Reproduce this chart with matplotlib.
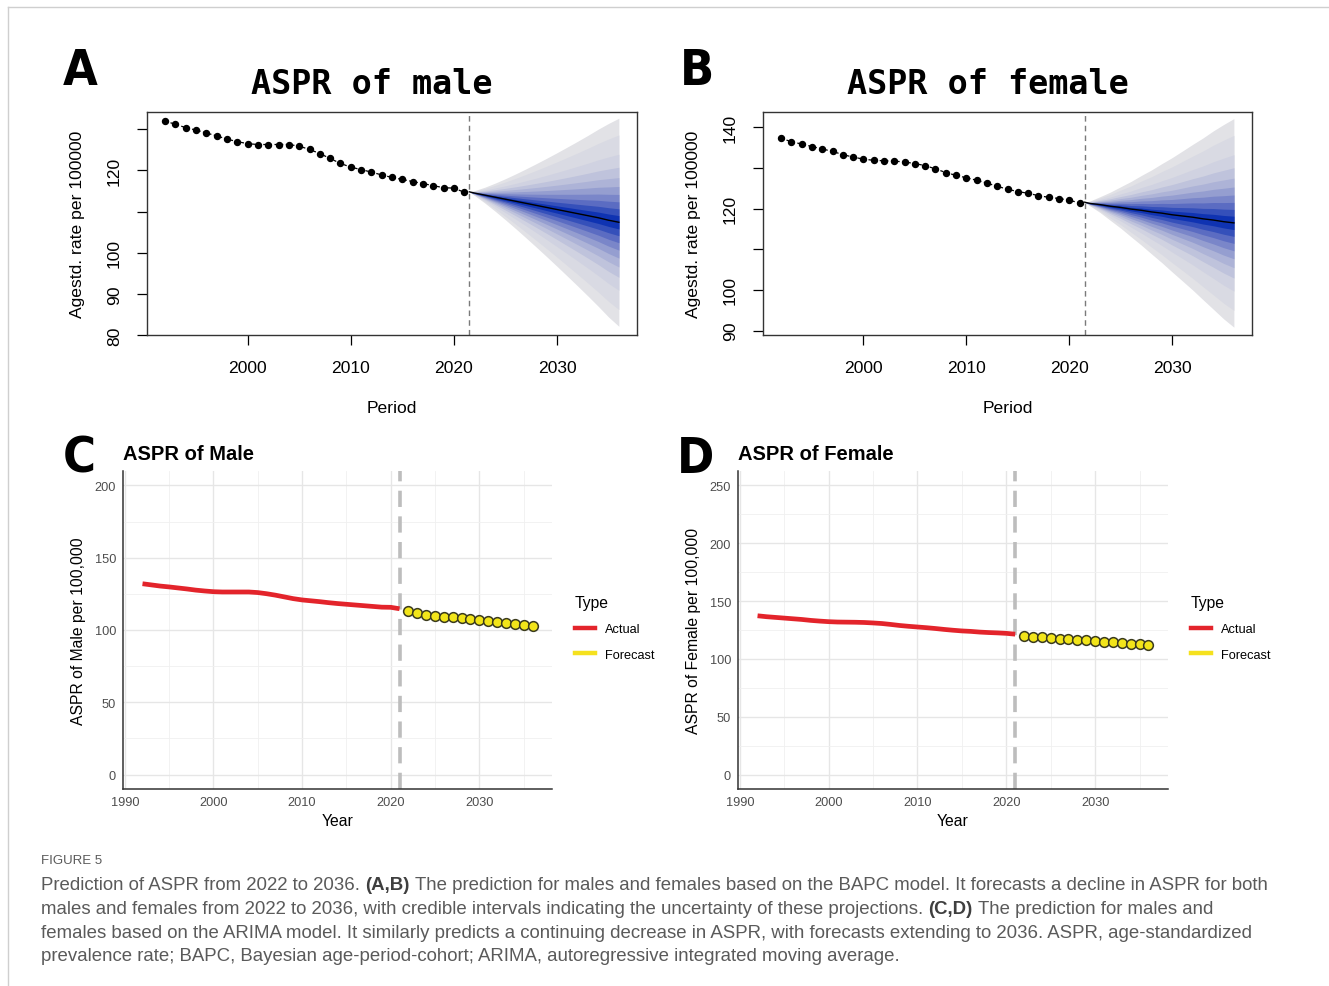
import numpy as np
import matplotlib
matplotlib.use("Agg")
import matplotlib.pyplot as plt
from matplotlib.lines import Line2D
from matplotlib.colors import LinearSegmentedColormap
from matplotlib.ticker import MultipleLocator, FixedLocator

plt.rcParams['font.family'] = ['Liberation Sans', 'DejaVu Sans']

# ---------------- data ----------------
years_obs = list(range(1992, 2022))
male_obs = [132.0, 131.2, 130.4, 129.8, 129.1, 128.4, 127.6, 127.0, 126.5, 126.3,
            126.3, 126.3, 126.3, 125.9, 125.1, 124.1, 122.9, 121.7, 120.8, 120.2,
            119.6, 118.9, 118.3, 117.8, 117.3, 116.8, 116.3, 115.8, 115.7, 114.7]
female_obs = [137.3, 136.5, 135.9, 135.3, 134.7, 134.1, 133.3, 132.7, 132.2, 131.9,
              131.8, 131.7, 131.5, 131.1, 130.6, 129.8, 128.9, 128.2, 127.6, 127.0,
              126.3, 125.5, 124.8, 124.2, 123.8, 123.2, 122.8, 122.5, 122.1, 121.4]

# BAPC projections: posterior median and standard deviation
bapc_years = [2021.5] + list(range(2022, 2037))
male_bapc_median = [114.8, 114.5, 114.0, 113.5, 113.0, 112.5, 112.0, 111.5,
                    111.0, 110.5, 110.0, 109.5, 109.0, 108.5, 107.9, 107.4]
male_bapc_sd = [0.0, 0.30, 0.98, 1.74, 2.55, 3.40, 4.28, 5.18,
                6.10, 7.04, 8.00, 8.97, 9.96, 10.98, 12.0, 12.9]
female_bapc_median = [121.6, 121.3, 121.0, 120.6, 120.3, 119.9, 119.6, 119.2,
                      118.9, 118.5, 118.2, 117.9, 117.5, 117.2, 116.8, 116.5]
female_bapc_sd = [0.0, 0.30, 1.00, 1.78, 2.60, 3.47, 4.37, 5.28,
                  6.22, 7.18, 8.16, 9.15, 10.16, 11.2, 12.2, 13.1]

# ARIMA forecasts
arima_years = list(range(2022, 2037))
male_arima = [112.9, 111.5, 110.4, 109.7, 109.2, 109.0, 108.3, 107.8,
              107.1, 106.5, 105.8, 105.1, 104.4, 103.5, 103.0]
female_arima = [120.2, 119.3, 118.7, 118.1, 117.6, 117.3, 116.7, 116.1,
                115.6, 115.0, 114.4, 113.8, 113.2, 112.7, 112.1]

# normal quantiles of the fan bands (outermost first)
BAND_Z = [1.96, 1.645, 1.2816, 1.0364, 0.8416, 0.6745, 0.5244, 0.3853, 0.2533, 0.1257]

# ---------------- figure ----------------
W, H = 1329, 987
fig = plt.figure(figsize=(W / 100, H / 100), dpi=100)
renderer = fig.canvas.get_renderer()


def fx(px):
    return px / W


def fy(py):
    return 1 - py / H


def axes_px(left, top, right, bottom):
    return fig.add_axes([fx(left), fy(bottom), (right - left) / W, (bottom - top) / H])


fan_cmap = LinearSegmentedColormap.from_list(
    'fan', ['#E2E2E6', '#CDD0E0', '#A3AAD4', '#6674C4', '#0F33B2'])
band_colors = [fan_cmap(i / (len(BAND_Z) - 1)) for i in range(len(BAND_Z))]


def bapc_panel(ax, obs, med, sd, ylim, yticks, ylabels):
    med = np.asarray(med)
    sd = np.asarray(sd)
    for z, col in zip(BAND_Z, band_colors):
        ax.fill_between(bapc_years, med - z * sd, med + z * sd, color=col, lw=0, zorder=1)
    ax.plot(bapc_years, med, color='black', lw=1.0, zorder=3)
    ax.plot(years_obs, obs, color='black', lw=0.9, ls=(0, (2.5, 2)),
            marker='o', ms=4.3, zorder=4)
    ax.axvline(2021.5, color='#7a7a7a', lw=1.0, ls=(0, (4, 3)), zorder=2)
    ax.set_xlim(1990.24, 2037.76)
    ax.set_ylim(*ylim)
    ax.set_xticks([2000, 2010, 2020, 2030])
    ax.set_yticks(yticks)
    ax.set_yticklabels(ylabels, rotation=90, va='center')
    ax.tick_params(axis='both', direction='out', length=7, width=0.9,
                   labelsize=12.6, colors='black')
    ax.tick_params(axis='x', pad=11)
    ax.tick_params(axis='y', pad=11)
    for s in ax.spines.values():
        s.set_linewidth(1.0)
        s.set_color('#333333')
    ax.set_xlabel('Period', fontsize=12.6, labelpad=18)
    ax.set_ylabel('Agestd. rate per 100000', fontsize=12.6, labelpad=16)


axA = axes_px(147, 113, 637, 336)
bapc_panel(axA, male_obs, male_bapc_median, male_bapc_sd, (80.1, 134.2),
           [80, 90, 100, 110, 120, 130], ['80', '90', '100', '', '120', ''])
axB = axes_px(763, 113, 1252, 336)
bapc_panel(axB, female_obs, female_bapc_median, female_bapc_sd, (88.9, 143.8),
           [90, 100, 110, 120, 130, 140], ['90', '100', '', '120', '', '140'])

title_kw = dict(family='DejaVu Sans Mono', weight='bold', size=24,
                ha='center', va='center')
fig.text(fx(372), fy(84), 'ASPR of male', **title_kw)
fig.text(fx(988), fy(84), 'ASPR of female', **title_kw)

letter_kw = dict(family=['DejaVu Sans'], weight='bold', stretch='condensed',
                 size=36, ha='center', va='center')
fig.text(fx(80), fy(71), 'A', **letter_kw)
fig.text(fx(697), fy(71), 'B', **letter_kw)
fig.text(fx(79), fy(459), 'C', **letter_kw)
fig.text(fx(696), fy(459), 'D', **letter_kw)


def arima_panel(ax, obs, fc, ymax, title, ylabel, legend_xy):
    ax.set_xlim(1989.8, 2038.2)
    ax.set_ylim(-0.05 * ymax, 1.05 * ymax)
    ax.xaxis.set_major_locator(MultipleLocator(10))
    ax.xaxis.set_minor_locator(FixedLocator(np.arange(1995, 2040, 10)))
    ax.yaxis.set_major_locator(MultipleLocator(50))
    ax.yaxis.set_minor_locator(FixedLocator(np.arange(25, ymax, 50)))
    ax.grid(which='major', color='#E6E6E6', lw=1.0, zorder=0)
    ax.grid(which='minor', color='#F0F0F0', lw=0.6, zorder=0)
    ax.set_axisbelow(True)
    ax.tick_params(which='both', length=0, labelsize=9.2, labelcolor='#4D4D4D', pad=5)
    for side in ('top', 'right'):
        ax.spines[side].set_visible(False)
    for side in ('left', 'bottom'):
        ax.spines[side].set_color('#333333')
        ax.spines[side].set_linewidth(1.1)
    ax.axvline(2021, color='#BDBDBD', lw=2.6, ls=(0, (4.5, 2.6)), zorder=2)
    ax.plot(years_obs, obs, color='#E3242B', lw=3.4, zorder=3, solid_capstyle='butt')
    ax.plot(arima_years, fc, 'o', ms=7.0, mfc='#F2E51A', mec='#3B3B1E', mew=1.1, zorder=4)
    ax.set_xlabel('Year', fontsize=11.3, labelpad=4)
    ax.set_ylabel(ylabel, fontsize=11.3, labelpad=6)
    ax.text(0.0, 1.025, title, transform=ax.transAxes, fontsize=14.5, weight='bold',
            ha='left', va='bottom')
    handles = [Line2D([], [], color='#E3242B', lw=3.2),
               Line2D([], [], color='#F5E11E', lw=3.2)]
    ax.legend(handles, ['Actual', 'Forecast'], title='Type', loc='upper left',
              bbox_to_anchor=(fx(legend_xy[0]), fy(legend_xy[1])),
              bbox_transform=fig.transFigure, frameon=False, fontsize=9.2,
              title_fontsize=11.3, handlelength=1.55, handletextpad=0.8,
              labelspacing=1.05, borderpad=0, borderaxespad=0, alignment='left')


axC = axes_px(123, 472, 552, 790)
arima_panel(axC, male_obs, male_arima, 200, 'ASPR of Male', 'ASPR of Male per 100,000', (575, 596))
axD = axes_px(738, 472, 1168, 790)
arima_panel(axD, female_obs, female_arima, 250, 'ASPR of Female',
            'ASPR of Female per 100,000', (1191, 596))

# ---------------- caption ----------------
cap_family = ['Liberation Sans', 'DejaVu Sans']
cap_color = '#5A5A5A'
fig.text(fx(41), fy(861), 'FIGURE 5', size=9.5, color=cap_color, family=cap_family,
         ha='left', va='center')

caption_lines = [
    [('Prediction of ASPR from 2022 to 2036.', False), ('(A,B)', True),
     ('The prediction for males and females based on the BAPC model. '
      'It forecasts a decline in ASPR for both', False)],
    [('males and females from 2022 to 2036, with credible intervals indicating '
      'the uncertainty of these projections.', False), ('(C,D)', True),
     ('The prediction for males and', False)],
    [('females based on the ARIMA model. It similarly predicts a continuing '
      'decrease in ASPR, with forecasts extending to 2036. ASPR, age-standardized', False)],
    [('prevalence rate; BAPC, Bayesian age-period-cohort; ARIMA, autoregressive '
      'integrated moving average.', False)],
]

# size the caption so that the first line spans the text block width
probe = fig.text(0, 0, ' '.join(p[0] for p in caption_lines[0]), size=13,
                 family=cap_family)
cap_size = 13 * (1268 - 41) / probe.get_window_extent(renderer).width
probe.remove()


def rich_line(x_px, y_px, pieces, size):
    probe = fig.text(0, 0, 'x x', size=size, family=cap_family)
    w2 = probe.get_window_extent(renderer).width
    probe.set_text('xx')
    w1 = probe.get_window_extent(renderer).width
    probe.remove()
    space = w2 - w1
    cur = x_px
    for i, (txt, bold) in enumerate(pieces):
        if i > 0:
            cur += space
        t = fig.text(fx(cur), fy(y_px), txt, size=size, family=cap_family,
                     color='#3F3F3F' if bold else cap_color,
                     weight='bold' if bold else 'normal', ha='left', va='center')
        cur = t.get_window_extent(renderer).x1


for k, line in enumerate(caption_lines):
    rich_line(41, 885 + 24 * k, line, cap_size)

# page frame
fig.add_artist(Line2D([fx(8), 1], [fy(8), fy(8)], transform=fig.transFigure,
                      color='#CFCFCF', lw=1.0))
fig.add_artist(Line2D([fx(8), fx(8)], [fy(8), 0], transform=fig.transFigure,
                      color='#CFCFCF', lw=1.0))

fig.savefig('out.png', dpi=100)
